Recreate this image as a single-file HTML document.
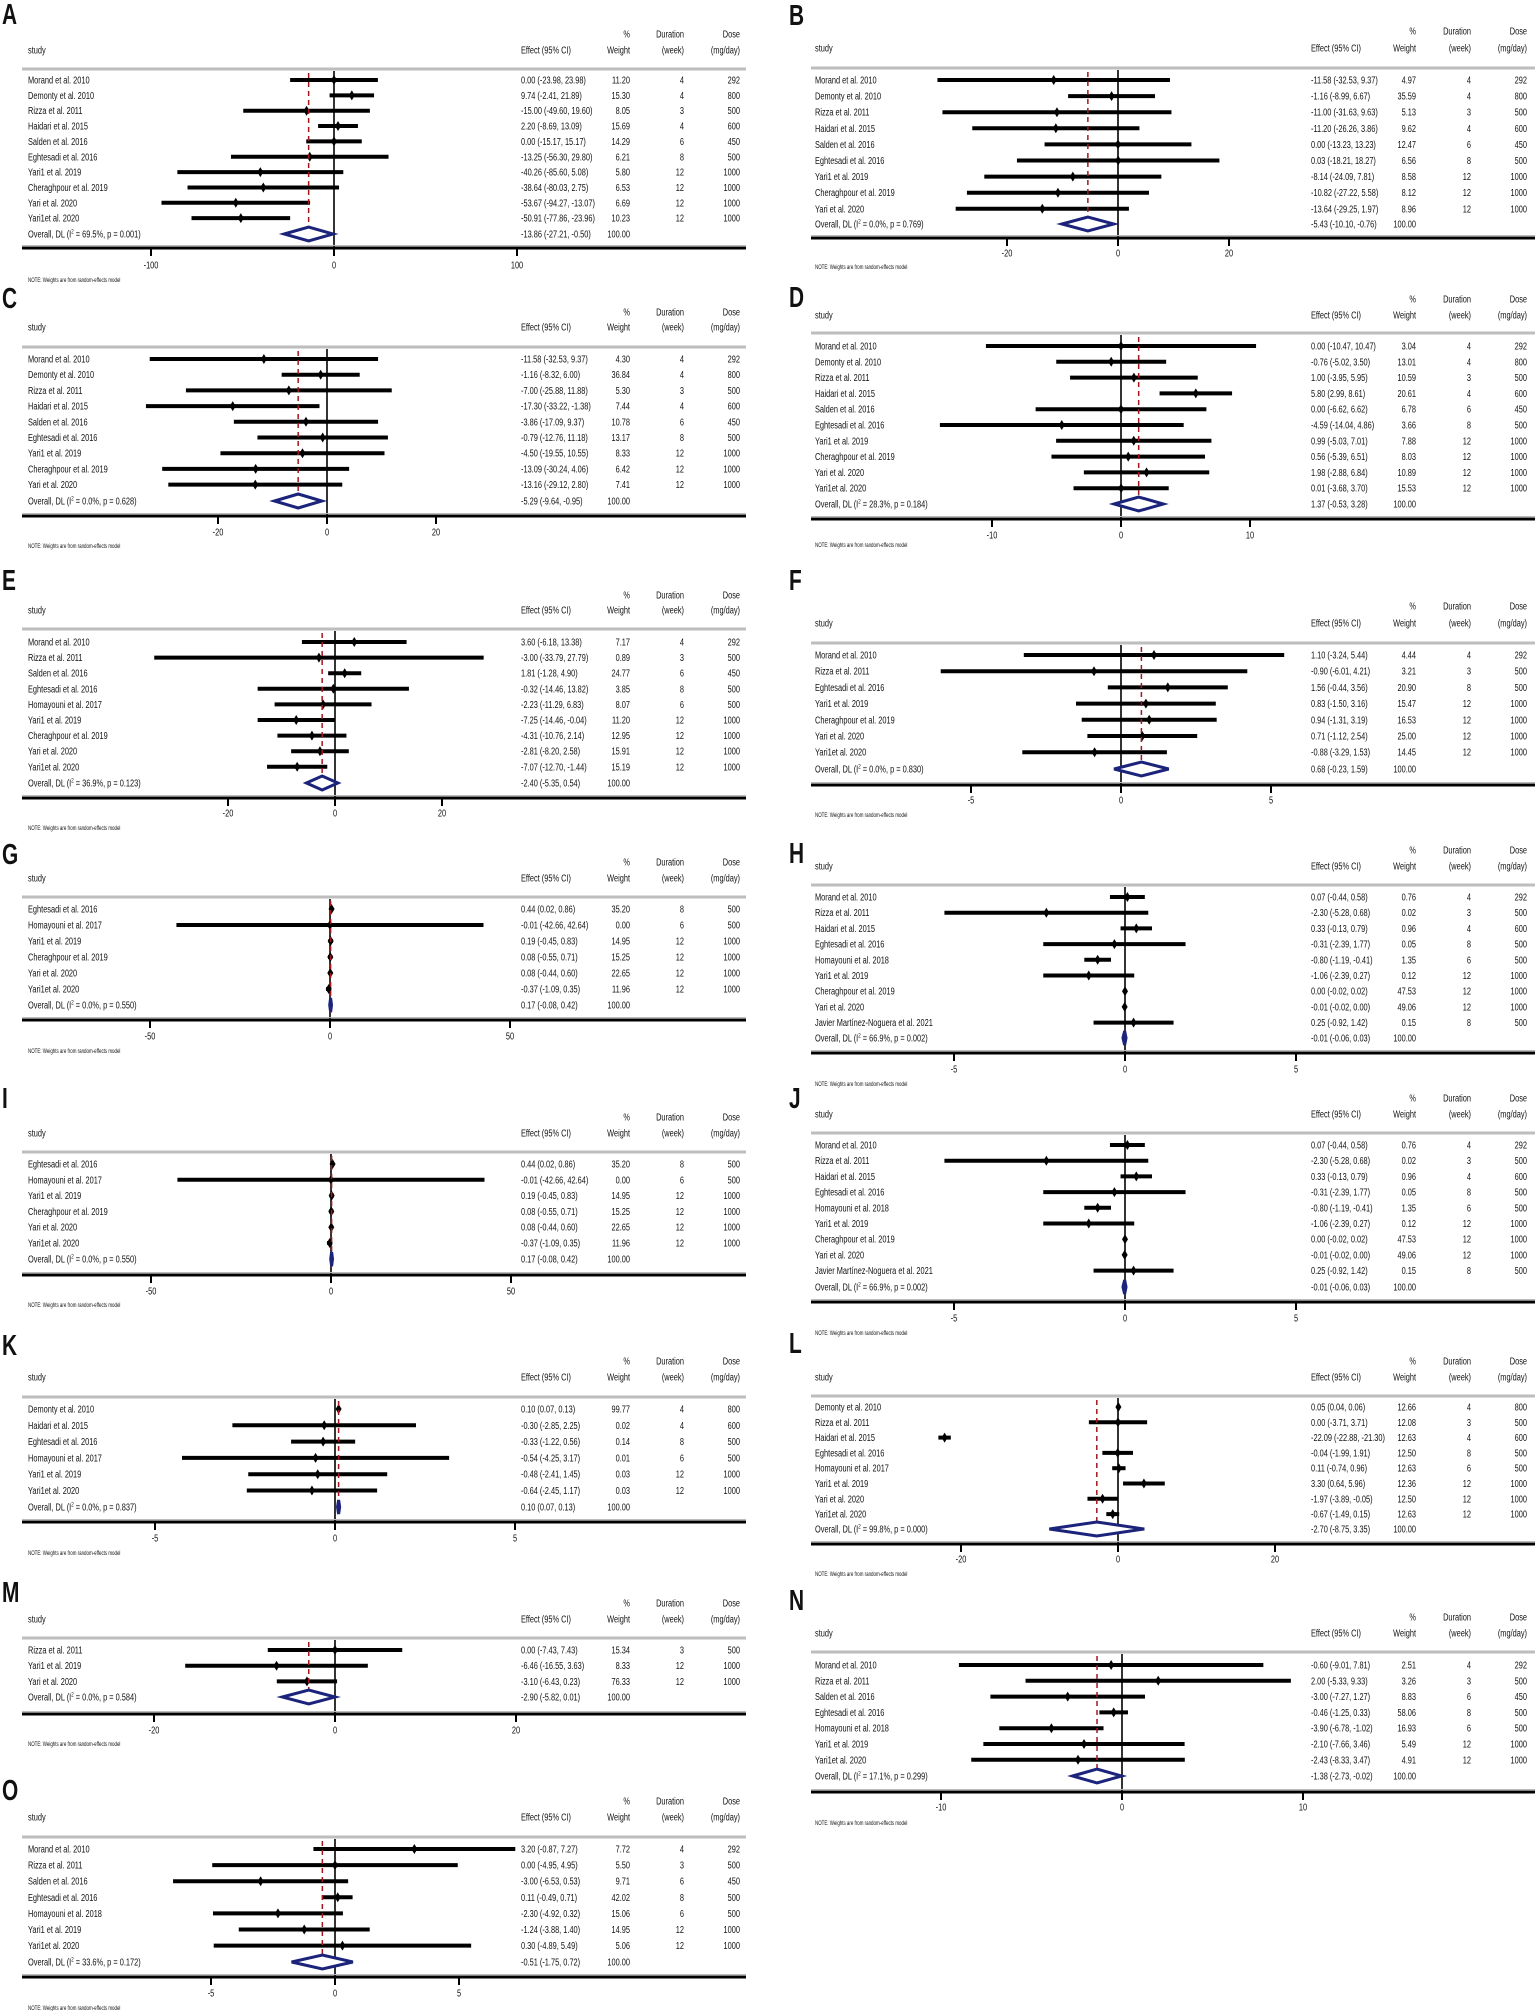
<!DOCTYPE html>
<html><head><meta charset="utf-8"><style>
html,body{margin:0;padding:0;background:#fff}
svg{display:block}
text{font-family:"Liberation Sans",Arial,sans-serif;fill:#111}
</style></head><body>
<svg id="s" width="1535" height="2011" viewBox="0 0 1535 2011" xmlns="http://www.w3.org/2000/svg"></svg>
<script>
const L={study:28,eff:521,w:630,d:684,dose:740,ax0:22,ax1:746,lab:2};
const R={study:815,eff:1311,w:1416,d:1471,dose:1527,ax0:811,ax1:1535,lab:789};
function r(n,e,lo,hi,w,d,ds){return {n,e,lo,hi,w,d,ds};}
const MO="Morand et al. 2010",DE="Demonty et al. 2010",RI="Rizza et al. 2011",HA="Haidari et al. 2015",SA="Salden et al. 2016",EG="Eghtesadi et al. 2016",Y19="Yari1 et al. 2019",CH="Cheraghpour et al. 2019",Y20="Yari et al. 2020",YE="Yari1et al. 2020",H17="Homayouni et al. 2017",H18="Homayouni et al. 2018",JA="Javier Martínez-Noguera et al. 2021";
const GI=[r(EG,.44,.02,.86,"35.20",8,500),r(H17,-.01,-42.66,42.64,"0.00",6,500),r(Y19,.19,-.45,.83,"14.95",12,1000),r(CH,.08,-.55,.71,"15.25",12,1000),r(Y20,.08,-.44,.60,"22.65",12,1000),r(YE,-.37,-1.09,.35,"11.96",12,1000)];
const HJ=[r(MO,.07,-.44,.58,"0.76",4,292),r(RI,-2.30,-5.28,.68,"0.02",3,500),r(HA,.33,-.13,.79,"0.96",4,600),r(EG,-.31,-2.39,1.77,"0.05",8,500),r(H18,-.80,-1.19,-.41,"1.35",6,500),r(Y19,-1.06,-2.39,.27,"0.12",12,1000),r(CH,0,-.02,.02,"47.53",12,1000),r(Y20,-.01,-.02,0,"49.06",12,1000),r(JA,.25,-.92,1.42,"0.15",8,500)];
const P=[
{c:L,t:"A",lab:14,pc:34,st:50,g:69,r0:80,rs:15.35,ov:234,ax:248,tk:265,nt:280,z:334,sc:1.83,ticks:[-100,0,100],o:["69.5","0.001",-13.86,-27.21,-0.50],rows:[r(MO,0,-23.98,23.98,"11.20",4,292),r(DE,9.74,-2.41,21.89,"15.30",4,800),r(RI,-15,-49.6,19.6,"8.05",3,500),r(HA,2.2,-8.69,13.09,"15.69",4,600),r(SA,0,-15.17,15.17,"14.29",6,450),r(EG,-13.25,-56.3,29.8,"6.21",8,500),r(Y19,-40.26,-85.6,5.08,"5.80",12,1000),r(CH,-38.64,-80.03,2.75,"6.53",12,1000),r(Y20,-53.67,-94.27,-13.07,"6.69",12,1000),r(YE,-50.91,-77.86,-23.96,"10.23",12,1000)]},
{c:R,t:"B",lab:15,pc:31,st:48,g:68,r0:80,rs:16.1,ov:224,ax:238,tk:253,nt:267,z:1118,sc:5.55,ticks:[-20,0,20],o:["0.0","0.769",-5.43,-10.10,-0.76],rows:[r(MO,-11.58,-32.53,9.37,"4.97",4,292),r(DE,-1.16,-8.99,6.67,"35.59",4,800),r(RI,-11,-31.63,9.63,"5.13",3,500),r(HA,-11.2,-26.26,3.86,"9.62",4,600),r(SA,0,-13.23,13.23,"12.47",6,450),r(EG,.03,-18.21,18.27,"6.56",8,500),r(Y19,-8.14,-24.09,7.81,"8.58",12,1000),r(CH,-10.82,-27.22,5.58,"8.12",12,1000),r(Y20,-13.64,-29.25,1.97,"8.96",12,1000)]},
{c:L,t:"C",lab:298,pc:312,st:327,g:347,r0:359,rs:15.7,ov:501,ax:516,tk:532,nt:546,z:327,sc:5.45,ticks:[-20,0,20],o:["0.0","0.628",-5.29,-9.64,-0.95],rows:[r(MO,-11.58,-32.53,9.37,"4.30",4,292),r(DE,-1.16,-8.32,6.00,"36.84",4,800),r(RI,-7,-25.88,11.88,"5.30",3,500),r(HA,-17.3,-33.22,-1.38,"7.44",4,600),r(SA,-3.86,-17.09,9.37,"10.78",6,450),r(EG,-.79,-12.76,11.18,"13.17",8,500),r(Y19,-4.5,-19.55,10.55,"8.33",12,1000),r(CH,-13.09,-30.24,4.06,"6.42",12,1000),r(Y20,-13.16,-29.12,2.8,"7.41",12,1000)]},
{c:R,t:"D",lab:297,pc:299,st:315,g:333,r0:346,rs:15.8,ov:504,ax:519,tk:535,nt:545,z:1121,sc:12.9,ticks:[-10,0,10],o:["28.3","0.184",1.37,-0.53,3.28],rows:[r(MO,0,-10.47,10.47,"3.04",4,292),r(DE,-.76,-5.02,3.5,"13.01",4,800),r(RI,1,-3.95,5.95,"10.59",3,500),r(HA,5.8,2.99,8.61,"20.61",4,600),r(SA,0,-6.62,6.62,"6.78",6,450),r(EG,-4.59,-14.04,4.86,"3.66",8,500),r(Y19,.99,-5.03,7.01,"7.88",12,1000),r(CH,.56,-5.39,6.51,"8.03",12,1000),r(Y20,1.98,-2.88,6.84,"10.89",12,1000),r(YE,.01,-3.68,3.7,"15.53",12,1000)]},
{c:L,t:"E",lab:580,pc:595,st:610,g:629,r0:642,rs:15.6,ov:783,ax:798,tk:813,nt:828,z:335,sc:5.35,ticks:[-20,0,20],o:["36.9","0.123",-2.40,-5.35,0.54],rows:[r(MO,3.6,-6.18,13.38,"7.17",4,292),r(RI,-3,-33.79,27.79,"0.89",3,500),r(SA,1.81,-1.28,4.9,"24.77",6,450),r(EG,-.32,-14.46,13.82,"3.85",8,500),r(H17,-2.23,-11.29,6.83,"8.07",6,500),r(Y19,-7.25,-14.46,-.04,"11.20",12,1000),r(CH,-4.31,-10.76,2.14,"12.95",12,1000),r(Y20,-2.81,-8.2,2.58,"15.91",12,1000),r(YE,-7.07,-12.7,-1.44,"15.19",12,1000)]},
{c:R,t:"F",lab:580,pc:606,st:623,g:643,r0:655,rs:16.2,ov:769,ax:785,tk:800,nt:815,z:1121,sc:30,ticks:[-5,0,5],o:["0.0","0.830",0.68,-0.23,1.59],rows:[r(MO,1.1,-3.24,5.44,"4.44",4,292),r(RI,-.9,-6.01,4.21,"3.21",3,500),r(EG,1.56,-.44,3.56,"20.90",8,500),r(Y19,.83,-1.5,3.16,"15.47",12,1000),r(CH,.94,-1.31,3.19,"16.53",12,1000),r(Y20,.71,-1.12,2.54,"25.00",12,1000),r(YE,-.88,-3.29,1.53,"14.45",12,1000)]},
{c:L,t:"G",lab:854,pc:862,st:878,g:897,r0:909,rs:16,ov:1005,ax:1020,tk:1036,nt:1051,z:330,sc:3.6,ticks:[-50,0,50],o:["0.0","0.550",0.17,-0.08,0.42],rows:GI},
{c:R,t:"H",lab:853,pc:850,st:866,g:885,r0:897,rs:15.7,ov:1038,ax:1053,tk:1069,nt:1084,z:1125,sc:34.2,ticks:[-5,0,5],o:["66.9","0.002",-0.01,-0.06,0.03],rows:HJ,nodash:1},
{c:L,t:"I",lab:1098,pc:1117,st:1133,g:1152,r0:1164,rs:15.8,ov:1259,ax:1275,tk:1291,nt:1305,z:331,sc:3.6,ticks:[-50,0,50],o:["0.0","0.550",0.17,-0.08,0.42],rows:GI},
{c:R,t:"J",lab:1098,pc:1098,st:1114,g:1133,r0:1145,rs:15.7,ov:1287,ax:1302,tk:1318,nt:1333,z:1125,sc:34.2,ticks:[-5,0,5],o:["66.9","0.002",-0.01,-0.06,0.03],rows:HJ,nodash:1},
{c:L,t:"K",lab:1345,pc:1361,st:1377,g:1397,r0:1409,rs:16.3,ov:1507,ax:1522,tk:1538,nt:1553,z:335,sc:36,ticks:[-5,0,5],o:["0.0","0.837",0.10,0.07,0.13],rows:[r(DE,.1,.07,.13,"99.77",4,800),r(HA,-.3,-2.85,2.25,"0.02",4,600),r(EG,-.33,-1.22,.56,"0.14",8,500),r(H17,-.54,-4.25,3.17,"0.01",6,500),r(Y19,-.48,-2.41,1.45,"0.03",12,1000),r(YE,-.64,-2.45,1.17,"0.03",12,1000)]},
{c:R,t:"L",lab:1343,pc:1361,st:1377,g:1396,r0:1407,rs:15.3,ov:1529,ax:1544,tk:1559,nt:1574,z:1118,sc:7.85,ticks:[-20,0,20],o:["99.8","0.000",-2.70,-8.75,3.35],rows:[r(DE,.05,.04,.06,"12.66",4,800),r(RI,0,-3.71,3.71,"12.08",3,500),r(HA,-22.09,-22.88,-21.3,"12.63",4,600),r(EG,-.04,-1.99,1.91,"12.50",8,500),r(H17,.11,-.74,.96,"12.63",6,500),r(Y19,3.3,.64,5.96,"12.36",12,1000),r(Y20,-1.97,-3.89,-.05,"12.50",12,1000),r(YE,-.67,-1.49,.15,"12.63",12,1000)]},
{c:L,t:"M",lab:1592,pc:1603,st:1619,g:1638,r0:1650,rs:15.7,ov:1697,ax:1714,tk:1730,nt:1744,z:335,sc:9.05,ticks:[-20,0,20],o:["0.0","0.584",-2.90,-5.82,0.01],rows:[r(RI,0,-7.43,7.43,"15.34",3,500),r(Y19,-6.46,-16.55,3.63,"8.33",12,1000),r(Y20,-3.1,-6.43,.23,"76.33",12,1000)]},
{c:R,t:"N",lab:1600,pc:1617,st:1633,g:1652,r0:1665,rs:15.8,ov:1776,ax:1792,tk:1807,nt:1823,z:1122,sc:18.1,ticks:[-10,0,10],o:["17.1","0.299",-1.38,-2.73,-0.02],rows:[r(MO,-.6,-9.01,7.81,"2.51",4,292),r(RI,2,-5.33,9.33,"3.26",3,500),r(SA,-3,-7.27,1.27,"8.83",6,450),r(EG,-.46,-1.25,.33,"58.06",8,500),r(H18,-3.9,-6.78,-1.02,"16.93",6,500),r(Y19,-2.1,-7.66,3.46,"5.49",12,1000),r(YE,-2.43,-8.33,3.47,"4.91",12,1000)]},
{c:L,t:"O",lab:1790,pc:1801,st:1817,g:1837,r0:1849,rs:16.1,ov:1962,ax:1977,tk:1993,nt:2008,z:335,sc:24.8,ticks:[-5,0,5],o:["33.6","0.172",-0.51,-1.75,0.72],rows:[r(MO,3.2,-.87,7.27,"7.72",4,292),r(RI,0,-4.95,4.95,"5.50",3,500),r(SA,-3,-6.53,.53,"9.71",6,450),r(EG,.11,-.49,.71,"42.02",8,500),r(H18,-2.3,-4.92,.32,"15.06",6,500),r(Y19,-1.24,-3.88,1.4,"14.95",12,1000),r(YE,.3,-4.89,5.49,"5.06",12,1000)]}
];
const f=v=>(Math.abs(v)<0.005&&v<0?"0.00":v.toFixed(2));
const ci=(e,lo,hi)=>(e<0&&Math.abs(e)<0.005?"-0.00":f(e))+" ("+f(lo)+", "+f(hi)+")";
let o=[];
function T(x,y,s,a,fs,extra){fs=fs||10;o.push(`<text transform="translate(${x},${y}) scale(0.74,1)" font-size="${fs}" text-anchor="${a||'start'}" ${extra||''}>${s}</text>`);}
for(const p of P){
 const c=p.c,X=v=>p.z+v*p.sc,b=3.5;
 o.push(`<text transform="translate(${c.lab},${p.lab+10}) scale(0.72,1)" font-size="29" font-weight="bold">${p.t}</text>`);
 T(c.w,p.pc+b,"%","end");T(c.d,p.pc+b,"Duration","end");T(c.dose,p.pc+b,"Dose","end");
 T(c.study,p.st+b,"study");T(c.eff,p.st+b,"Effect (95% CI)");T(c.w,p.st+b,"Weight","end");T(c.d,p.st+b,"(week)","end");T(c.dose,p.st+b,"(mg/day)","end");
 o.push(`<line x1="${c.ax0}" x2="${c.ax1}" y1="${p.g}" y2="${p.g}" stroke="#bdbdbd" stroke-width="3"/>`);
 o.push(`<line x1="${p.z}" x2="${p.z}" y1="${p.g+2}" y2="${p.ax}" stroke="#000" stroke-width="1.6"/>`);
 p.rows.forEach((q,i)=>{const y=p.r0+i*p.rs;
  T(c.study,y+b,q.n);T(c.eff,y+b,ci(q.e,q.lo,q.hi));T(c.w,y+b,q.w,"end");T(c.d,y+b,q.d,"end");T(c.dose,y+b,q.ds,"end");
  o.push(`<line x1="${X(q.lo)}" x2="${X(q.hi)}" y1="${y}" y2="${y}" stroke="#000" stroke-width="4"/>`);
  const cx=X(q.e);o.push(`<path d="M${cx-3} ${y}L${cx} ${y-5}L${cx+3} ${y}L${cx} ${y+5}Z" fill="#000"/>`);
 });
 const [i2,pv,e,lo,hi]=p.o,y=p.ov;
 o.push(`<text transform="translate(${c.study},${y+b}) scale(0.74,1)" font-size="10">Overall, DL (I<tspan dy="-4" font-size="6">2</tspan><tspan dy="4"> = ${i2}%, p = ${pv})</tspan></text>`);
 T(c.eff,y+b,ci(e,lo,hi));T(c.w,y+b,"100.00","end");
 if(!p.nodash)o.push(`<line x1="${X(e)}" x2="${X(e)}" y1="${p.g+4}" y2="${y+8}" stroke="#a3161c" stroke-width="1.5" stroke-dasharray="5,4"/>`);
 o.push(`<path d="M${X(lo)} ${y}L${X(e)} ${y-7}L${X(hi)} ${y}L${X(e)} ${y+7}Z" fill="#fff" stroke="#1b237a" stroke-width="3"/>`);
 o.push(`<line x1="${c.ax0}" x2="${c.ax1}" y1="${p.ax}" y2="${p.ax}" stroke="#000" stroke-width="3"/>`);
 o.push(`<line x1="${c.ax0}" x2="${c.ax1}" y1="${p.ax-2.5}" y2="${p.ax-2.5}" stroke="#bbb" stroke-width="1"/>`);
 for(const t of p.ticks){o.push(`<line x1="${X(t)}" x2="${X(t)}" y1="${p.ax}" y2="${p.ax+8}" stroke="#000" stroke-width="2"/>`);T(X(t),p.tk+b,t,"middle");}
 T(c.study,p.nt+2,"NOTE: Weights are from random-effects model","start",6);
}
document.getElementById("s").innerHTML=o.join("");
</script>
</body></html>
